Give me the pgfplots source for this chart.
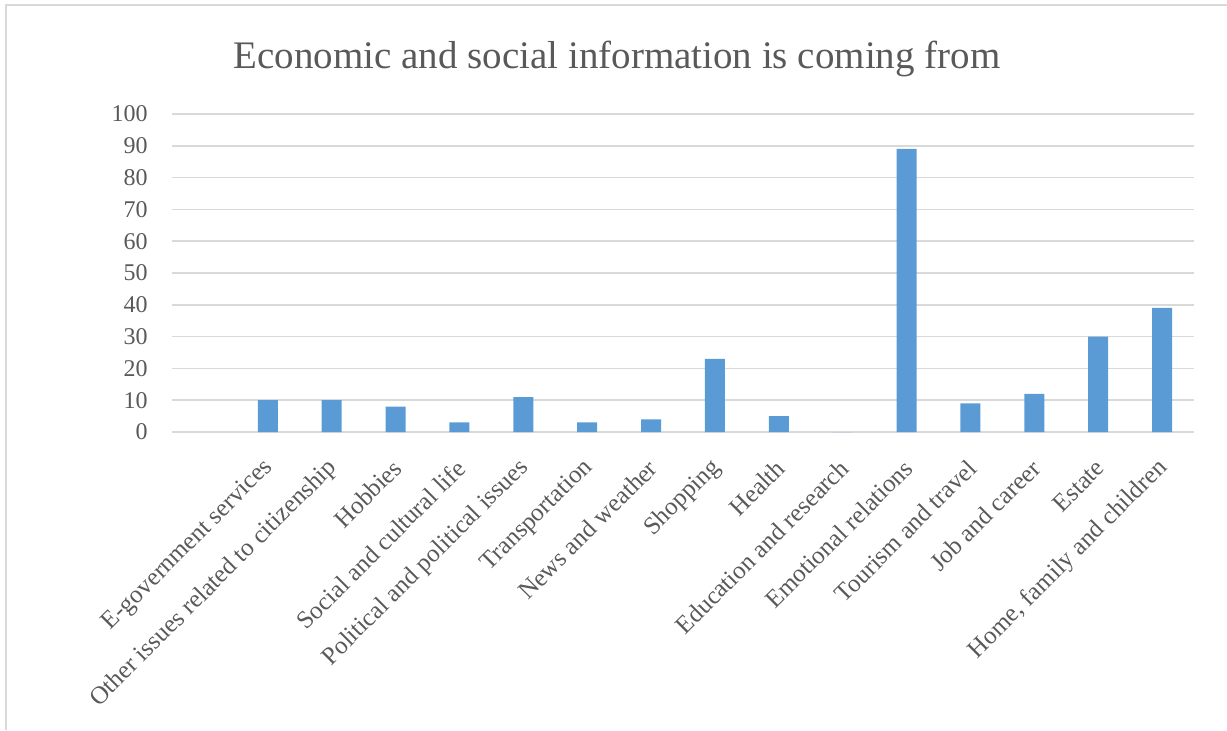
\documentclass[border=0pt]{standalone}
\usepackage{fontspec}
\setmainfont{Liberation Serif}
\usepackage{pgfplots}
\pgfplotsset{compat=1.18}
\definecolor{txt}{HTML}{595959}
\definecolor{grd}{HTML}{D9D9D9}
\definecolor{barc}{HTML}{5B9BD5}
\begin{document}
\begin{tikzpicture}
\begin{axis}[
 at={(0,0)}, anchor=south west, scale only axis,
 width=511pt, height=159pt,
 xmin=-0.5, xmax=15.5, ymin=0, ymax=100,
 ytick={0,10,...,100},
 xtick={1,...,15},
 xticklabels={E-government services, Other issues related to citizenship, Hobbies, Social and cultural life, Political and political issues, Transportation, News and weather, Shopping, Health, Education and research, Emotional relations, Tourism and travel, Job and career, Estate, {Home, family and children}},
 major tick length=0pt,
 axis line style={draw=none},
 ymajorgrids, grid style={grd, line width=0.8pt},
 ybar, bar width=10pt,
 /pgf/number format/assume math mode=true,
 yticklabel style={font=\fontsize{12}{14}\selectfont, text=txt, anchor=east, inner sep=0pt, xshift=-12pt},
 xticklabel style={font=\fontsize{12.5}{15}\selectfont, text=txt, xshift=1pt, yshift=-16pt, rotate=45, anchor=east, inner sep=0pt},
 clip=false,
]
\addplot[fill=barc, draw=none] coordinates {(1,10)(2,10)(3,8)(4,3)(5,11)(6,3)(7,4)(8,23)(9,5)(10,0)(11,89)(12,9)(13,12)(14,30)(15,39)};
\end{axis}
\node[anchor=base, text=txt, font=\fontsize{19.5}{23}\selectfont, inner sep=0pt] at (222.5pt,182pt) {Economic and social information is coming from};
\draw[grd, line width=0.8pt] (-83pt,-149pt) -- (-83pt,213.5pt) -- (527.5pt,213.5pt);
\pgfresetboundingbox
\path[use as bounding box] (-86pt,-149pt) rectangle (527.5pt,216pt);
\end{tikzpicture}
\end{document}
